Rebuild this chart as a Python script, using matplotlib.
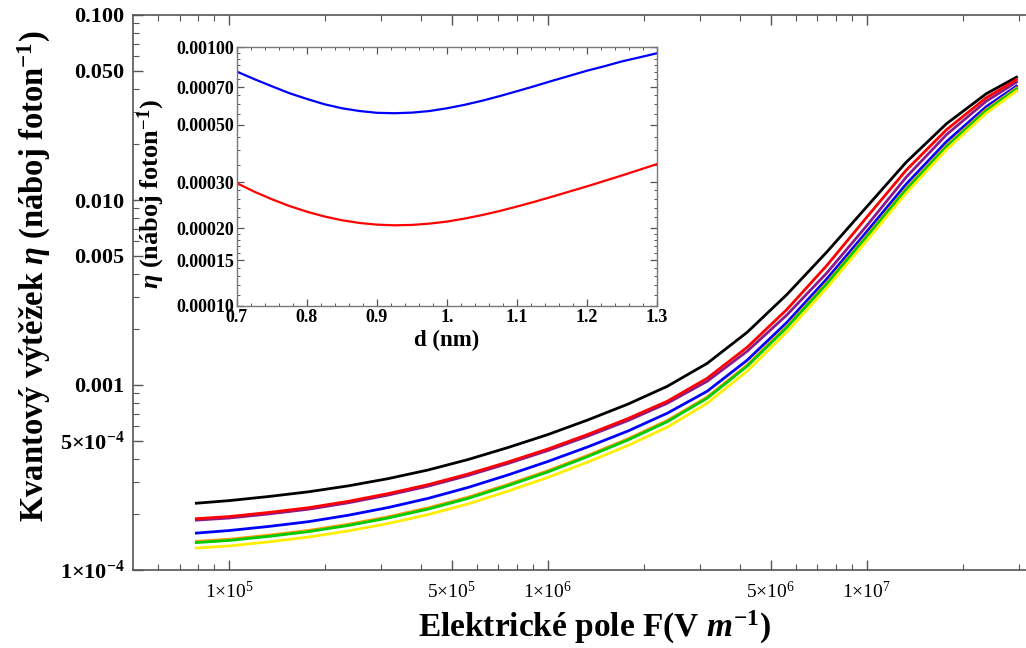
import numpy as np
import matplotlib
matplotlib.use("Agg")
import matplotlib.pyplot as plt
from matplotlib.ticker import FixedLocator, FixedFormatter, NullFormatter

# fonts - Times like, bold
plt.rcParams['font.family'] = ['Liberation Serif', 'DejaVu Serif']
plt.rcParams['mathtext.fontset'] = 'custom'
plt.rcParams['mathtext.rm'] = 'Liberation Serif'
plt.rcParams['mathtext.it'] = 'Liberation Serif:italic:bold'
plt.rcParams['mathtext.bf'] = 'Liberation Serif:bold'

# main plot data: electric field (V/m) and quantum yield
field = [7.9e4, 1e5, 1.33e5, 1.78e5, 2.37e5, 3.16e5, 4.22e5, 5.62e5, 7.5e5, 1e6, 1.33e6, 1.78e6,
         2.37e6, 3.16e6, 4.22e6, 5.62e6, 7.5e6, 1e7, 1.33e7, 1.78e7, 2.37e7, 2.95e7]
eta_black = [2.296e-4, 2.371e-4, 2.495e-4, 2.648e-4, 2.851e-4, 3.119e-4, 3.475e-4, 3.954e-4, 4.592e-4,
             5.395e-4, 6.457e-4, 7.870e-4, 9.840e-4, 1.309e-3, 1.928e-3, 3.083e-3, 5.236e-3, 9.183e-3,
             1.600e-2, 2.585e-2, 3.750e-2, 4.613e-2]
eta_purple = [1.860e-4, 1.909e-4, 2.008e-4, 2.132e-4, 2.309e-4, 2.542e-4, 2.841e-4, 3.242e-4, 3.765e-4,
              4.424e-4, 5.278e-4, 6.414e-4, 7.971e-4, 1.047e-3, 1.523e-3, 2.392e-3, 4.036e-3, 7.256e-3,
              1.328e-2, 2.256e-2, 3.417e-2, 4.336e-2]
eta_red = [1.894e-4, 1.944e-4, 2.046e-4, 2.172e-4, 2.352e-4, 2.589e-4, 2.895e-4, 3.303e-4, 3.836e-4,
           4.507e-4, 5.394e-4, 6.575e-4, 8.170e-4, 1.087e-3, 1.600e-3, 2.560e-3, 4.429e-3, 8.063e-3,
           1.449e-2, 2.400e-2, 3.568e-2, 4.472e-2]
eta_blue = [1.583e-4, 1.634e-4, 1.719e-4, 1.826e-4, 1.978e-4, 2.177e-4, 2.441e-4, 2.794e-4, 3.265e-4,
            3.860e-4, 4.620e-4, 5.631e-4, 7.041e-4, 9.251e-4, 1.362e-3, 2.179e-3, 3.746e-3, 6.737e-3,
            1.218e-2, 2.069e-2, 3.192e-2, 4.126e-2]
eta_orange = [1.428e-4, 1.466e-4, 1.542e-4, 1.637e-4, 1.768e-4, 1.940e-4, 2.168e-4, 2.475e-4, 2.901e-4,
              3.440e-4, 4.155e-4, 5.112e-4, 6.431e-4, 8.609e-4, 1.284e-3, 2.079e-3, 3.574e-3, 6.425e-3,
              1.154e-2, 1.972e-2, 3.083e-2, 4.036e-2]
eta_green = [1.407e-4, 1.444e-4, 1.519e-4, 1.613e-4, 1.741e-4, 1.911e-4, 2.136e-4, 2.438e-4, 2.858e-4,
             3.389e-4, 4.094e-4, 5.036e-4, 6.336e-4, 8.482e-4, 1.265e-3, 2.048e-3, 3.521e-3, 6.330e-3,
             1.137e-2, 1.943e-2, 3.037e-2, 3.976e-2]
eta_yellow = [1.314e-4, 1.349e-4, 1.419e-4, 1.507e-4, 1.627e-4, 1.785e-4, 1.995e-4, 2.277e-4, 2.669e-4,
              3.165e-4, 3.824e-4, 4.705e-4, 5.918e-4, 7.973e-4, 1.189e-3, 1.937e-3, 3.351e-3, 6.026e-3,
              1.089e-2, 1.873e-2, 2.944e-2, 3.878e-2]

# inset data: distance d (nm)
dist = [0.7, 0.725, 0.75, 0.775, 0.8, 0.825, 0.85, 0.875, 0.9, 0.925, 0.95, 0.975, 1.0,
        1.025, 1.05, 1.075, 1.1, 1.125, 1.15, 1.175, 1.2, 1.225, 1.25, 1.275, 1.3]
inset_blue = [8.03e-4, 7.51e-4, 7.05e-4, 6.63e-4, 6.30e-4, 6.01e-4, 5.80e-4, 5.66e-4, 5.57e-4,
              5.55e-4, 5.58e-4, 5.66e-4, 5.80e-4, 5.98e-4, 6.20e-4, 6.46e-4, 6.75e-4, 7.06e-4,
              7.40e-4, 7.74e-4, 8.10e-4, 8.43e-4, 8.80e-4, 9.12e-4, 9.46e-4]
inset_red = [2.979e-4, 2.761e-4, 2.582e-4, 2.432e-4, 2.312e-4, 2.216e-4, 2.143e-4, 2.092e-4, 2.061e-4,
             2.049e-4, 2.056e-4, 2.080e-4, 2.118e-4, 2.175e-4, 2.244e-4, 2.326e-4, 2.421e-4, 2.526e-4,
             2.642e-4, 2.767e-4, 2.897e-4, 3.041e-4, 3.192e-4, 3.357e-4, 3.532e-4]

# tick labels
x_ticks = [1e5, 5e5, 1e6, 5e6, 1e7]
x_labels = ['1×10$^{5}$', '5×10$^{5}$', '1×10$^{6}$', '5×10$^{6}$', '1×10$^{7}$']
y_ticks = [1e-4, 5e-4, 1e-3, 5e-3, 1e-2, 5e-2, 1e-1]
y_labels = ['1×10$^{\\mathbf{-4}}$', '5×10$^{\\mathbf{-4}}$', '0.001', '0.005', '0.010', '0.050', '0.100']
inset_yticks = [1e-4, 1.5e-4, 2e-4, 3e-4, 5e-4, 7e-4, 1e-3]
inset_ylabels = ['0.00010', '0.00015', '0.00020', '0.00030', '0.00050', '0.00070', '0.00100']
inset_xticks = [0.7, 0.8, 0.9, 1.0, 1.1, 1.2, 1.3]
inset_xlabels = ['0.7', '0.8', '0.9', '1.', '1.1', '1.2', '1.3']

axis_grey = '#555555'

fig = plt.figure(figsize=(10.26, 6.48), dpi=100)
ax = fig.add_axes([133 / 1026, 78 / 648, 893 / 1026, 555 / 648])

# purple under red, orange under green, like the original
lw = 2.0
ax.plot(field, eta_black, color='black', lw=lw)
ax.plot(field, eta_purple, color='#8b1a8b', lw=lw)
ax.plot(field, eta_red, color='#ff0000', lw=lw)
ax.plot(field, eta_blue, color='#0000ff', lw=lw)
ax.plot(field, eta_orange, color='#ff9900', lw=lw)
ax.plot(field, eta_green, color='#00cc00', lw=lw)
ax.plot(field, eta_yellow, color='#ffee00', lw=lw)

ax.set_xscale('log')
ax.set_yscale('log')
ax.set_xlim(5e4, 3.16e7)
ax.set_ylim(1e-4, 0.1)

# ticks, Mathematica style (inside)
x_minor = [6e4, 7e4, 8e4, 9e4, 2e5, 3e5, 4e5, 6e5, 7e5, 8e5, 9e5,
           2e6, 3e6, 4e6, 6e6, 7e6, 8e6, 9e6, 2e7, 3e7]
y_minor = [2e-4, 3e-4, 4e-4, 6e-4, 7e-4, 8e-4, 9e-4, 2e-3, 3e-3, 4e-3, 6e-3, 7e-3, 8e-3, 9e-3,
           2e-2, 3e-2, 4e-2, 6e-2, 7e-2, 8e-2, 9e-2]
ax.xaxis.set_major_locator(FixedLocator(x_ticks))
ax.xaxis.set_major_formatter(FixedFormatter(x_labels))
ax.xaxis.set_minor_locator(FixedLocator(x_minor))
ax.xaxis.set_minor_formatter(NullFormatter())
ax.yaxis.set_major_locator(FixedLocator(y_ticks))
ax.yaxis.set_major_formatter(FixedFormatter(y_labels))
ax.yaxis.set_minor_locator(FixedLocator(y_minor))
ax.yaxis.set_minor_formatter(NullFormatter())

ax.tick_params(which='both', direction='in', top=True, right=False, color=axis_grey)
ax.tick_params(which='major', length=7, width=1)
ax.tick_params(which='minor', length=4, width=0.8)
ax.tick_params(axis='x', which='major', labelsize=14, pad=8)
ax.tick_params(axis='y', which='major', labelsize=16, pad=6)
for lab in ax.get_yticklabels():
    lab.set_fontweight('bold')

for side in ['left', 'bottom', 'top']:
    ax.spines[side].set_color(axis_grey)
    ax.spines[side].set_linewidth(1.2)
ax.spines['right'].set_visible(False)

ax.set_xlabel('Elektrické pole F(V $\\mathit{m}^{\\mathbf{-1}}$)', fontsize=24, fontweight='bold')
ax.set_ylabel('Kvantový výtěžek $\\mathit{\\eta}$ (náboj foton$^{\\mathbf{-1}}$)', fontsize=23.5,
              fontweight='bold')
ax.xaxis.set_label_coords(0.517, -0.07)
ax.yaxis.set_label_coords(-0.09, 0.53)

# inset plot
axin = fig.add_axes([237 / 1026, 342 / 648, 420 / 1026, 259 / 648])
axin.plot(dist, inset_blue, color='#0000ff', lw=1.6)
axin.plot(dist, inset_red, color='#ff0000', lw=1.6)
axin.set_yscale('log')
axin.set_xlim(0.7, 1.3)
axin.set_ylim(1e-4, 1e-3)

axin.yaxis.set_major_locator(FixedLocator(inset_yticks))
axin.yaxis.set_major_formatter(FixedFormatter(inset_ylabels))
axin.yaxis.set_minor_locator(FixedLocator([1.1e-4, 1.2e-4, 1.3e-4, 1.4e-4, 1.6e-4, 1.7e-4, 1.8e-4, 1.9e-4,
                                           2.2e-4, 2.4e-4, 2.6e-4, 2.8e-4, 3.5e-4, 4e-4, 4.5e-4,
                                           5.5e-4, 6e-4, 6.5e-4, 7.5e-4, 8e-4, 8.5e-4, 9e-4, 9.5e-4]))
axin.yaxis.set_minor_formatter(NullFormatter())
axin.xaxis.set_major_locator(FixedLocator(inset_xticks))
axin.xaxis.set_major_formatter(FixedFormatter(inset_xlabels))
axin.xaxis.set_minor_locator(FixedLocator(np.arange(0.72, 1.3, 0.02)))

axin.tick_params(which='both', direction='in', top=True, right=True, color=axis_grey)
axin.tick_params(which='major', length=5, width=0.9, labelsize=13, pad=2)
axin.tick_params(which='minor', length=2.5, width=0.7)
for lab in axin.get_xticklabels() + axin.get_yticklabels():
    lab.set_fontweight('bold')
for side in axin.spines.values():
    side.set_color('#777777')
    side.set_linewidth(1.0)

axin.set_xlabel('d (nm)', fontsize=16.5, fontweight='bold', labelpad=3)
axin.set_ylabel('$\\mathit{\\eta}$ (náboj foton$^{\\mathbf{-1}}$)', fontsize=19, fontweight='bold')
axin.yaxis.set_label_coords(-0.167, 0.43)

fig.savefig('out.png', dpi=100)
